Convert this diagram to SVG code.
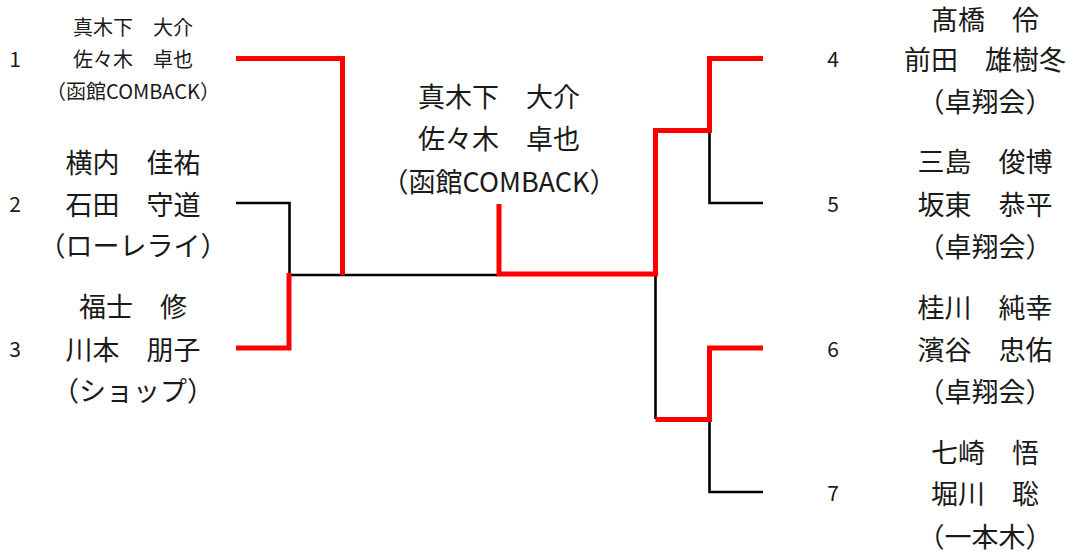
<svg xmlns="http://www.w3.org/2000/svg" width="1075" height="554" viewBox="0 0 1075 554">
<style>
text{font-family:"Noto Sans CJK JP","Noto Sans",sans-serif;fill:#1a1a1a;dominant-baseline:central;text-anchor:middle}
.big{font-size:27px}
.small{font-size:20px}
.num{font-size:21px}
.win{fill:none;stroke:#ff0000;stroke-width:5;stroke-linejoin:miter;stroke-linecap:butt}
.lose{fill:none;stroke:#000;stroke-width:2.6;stroke-linecap:butt}
</style>
<rect width="1075" height="554" fill="#fff"/>
<g id="connectors">
<polyline class="lose" points="236,203 289.5,203 289.5,275"/>
<polyline class="lose" points="289,275 498,275"/>
<polyline class="lose" points="709.5,130 709.5,203 763,203"/>
<polyline class="lose" points="655.5,274 655.5,419"/>
<polyline class="lose" points="709.5,419 709.5,492 763,492"/>
<polyline class="win" points="236,58.5 342.5,58.5 342.5,275"/>
<polyline class="win" points="236,348 289,348 289,273"/>
<polyline class="win" points="499,204 499,274 655.5,274 655.5,130.5 709.5,130.5 709.5,58.5 763,58.5"/>
<polyline class="win" points="655.5,419.5 709.5,419.5 709.5,348 763,348"/>
</g>
<g id="node1">
<text class="num" x="15" y="58">1</text>
<text class="small" x="133" y="26">真木下　大介</text>
<text class="small" x="133" y="58">佐々木　卓也</text>
<text class="small" x="133" y="90">（函館COMBACK）</text>
</g>
<g id="node2">
<text class="num" x="15" y="203">2</text>
<text class="big" x="133" y="161">横内　佳祐</text>
<text class="big" x="133" y="203">石田　守道</text>
<text class="big" x="133" y="244">（ローレライ）</text>
</g>
<g id="node3">
<text class="num" x="15" y="348">3</text>
<text class="big" x="133" y="305">福士　修</text>
<text class="big" x="133" y="348">川本　朋子</text>
<text class="big" x="133" y="389">（ショップ）</text>
</g>
<g id="winner">
<text class="big" x="499" y="95">真木下　大介</text>
<text class="big" x="499" y="137">佐々木　卓也</text>
<text class="big" x="499" y="180">（函館COMBACK）</text>
</g>
<g id="node4">
<text class="num" x="833" y="58">4</text>
<text class="big" x="985" y="18">髙橋　伶</text>
<text class="big" x="985" y="58">前田　雄樹冬</text>
<text class="big" x="985" y="100">（卓翔会）</text>
</g>
<g id="node5">
<text class="num" x="833" y="203">5</text>
<text class="big" x="985" y="160">三島　俊博</text>
<text class="big" x="985" y="203">坂東　恭平</text>
<text class="big" x="985" y="245">（卓翔会）</text>
</g>
<g id="node6">
<text class="num" x="833" y="348">6</text>
<text class="big" x="985" y="306">桂川　純幸</text>
<text class="big" x="985" y="348">濱谷　忠佑</text>
<text class="big" x="985" y="390">（卓翔会）</text>
</g>
<g id="node7">
<text class="num" x="833" y="492">7</text>
<text class="big" x="985" y="451">七崎　悟</text>
<text class="big" x="985" y="492">堀川　聡</text>
<text class="big" x="985" y="535">（一本木）</text>
</g>
</svg>
